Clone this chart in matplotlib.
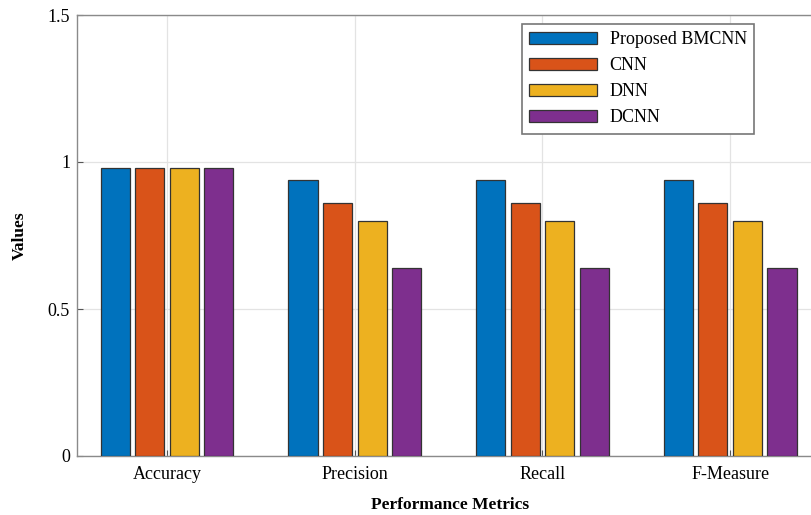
import numpy as np
import matplotlib
matplotlib.use('Agg')
import matplotlib.pyplot as plt

plt.rcParams['font.family'] = ['Liberation Serif', 'DejaVu Serif']

# Data
metrics = ['Accuracy', 'Precision', 'Recall', 'F-Measure']
bmcnn = [0.98, 0.94, 0.94, 0.94]
cnn = [0.98, 0.86, 0.86, 0.86]
dnn = [0.98, 0.80, 0.80, 0.80]
dcnn = [0.98, 0.64, 0.64, 0.64]
series_names = ['Proposed BMCNN', 'CNN', 'DNN', 'DCNN']

# MATLAB default colour order
colors = ['#0072BD', '#D95319', '#EDB120', '#7E2F8E']

fig = plt.figure(figsize=(8.12, 5.15), dpi=100)
# axes runs a little past the right border, as in the reference crop
ax = fig.add_axes([77 / 812, 1 - 456 / 515, (824 - 77) / 812, (456 - 15) / 515])

x = np.arange(1, len(metrics) + 1)
step = 0.184
width = 0.155
all_series = [bmcnn, cnn, dnn, dcnn]
for i, (vals, name) in enumerate(zip(all_series, series_names)):
  offs = (i - 1.5) * step
  ax.bar(x + offs, vals, width, color=colors[i], edgecolor='#333333',
         linewidth=0.9, label=name, zorder=3)

ax.set_xlim(0.52, 4.5)
ax.set_ylim(0, 1.5)
ax.set_xticks(x)
ax.set_xticklabels(metrics, fontsize=13)
ax.set_yticks([0, 0.5, 1, 1.5])
ax.set_yticklabels(['0', '0.5', '1', '1.5'], fontsize=13)
ax.tick_params(direction='in', length=4, color='#555555', pad=5)
ax.tick_params(axis='x', pad=7)
ax.grid(True, color='#e3e3e3', linewidth=0.9, zorder=0)
for s in ax.spines.values():
  s.set_color('#8a8a8a')
  s.set_linewidth(1.0)

ax.set_xlabel('Performance Metrics', fontsize=12.5, fontweight='bold')
ax.set_ylabel('Values', fontsize=12.5, fontweight='bold')
ax.xaxis.set_label_coords(0.5, -0.093)
ax.yaxis.set_label_coords(-0.066, 0.5)

leg = ax.legend(loc='upper left', bbox_to_anchor=((522 - 77) / 747, 1 - (24 - 15) / 441),
                fontsize=13, handlelength=3.75, handleheight=0.7,
                labelspacing=0.5, borderpad=0.4, handletextpad=0.7,
                borderaxespad=0, fancybox=False, framealpha=1, edgecolor='#777777')
leg.get_frame().set_linewidth(1.2)

plt.savefig('out.png', dpi=100)
